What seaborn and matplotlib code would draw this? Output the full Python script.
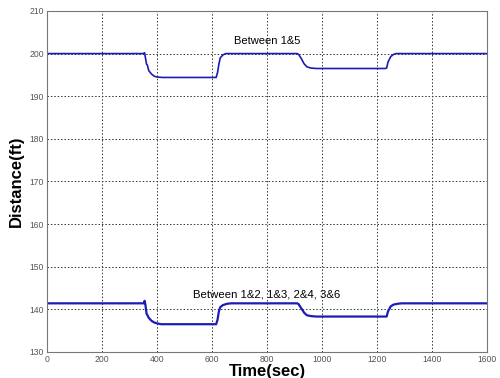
import matplotlib
matplotlib.use("Agg")
import matplotlib.pyplot as plt
import seaborn as sns
import pandas as pd

# Between 1&5
t_top = [0, 350, 355, 358, 362, 365, 370, 380, 390, 400, 420, 615, 620, 625, 630, 640, 650, 670,
         910, 915, 925, 935, 945, 960, 980, 1230, 1235, 1240, 1250, 1260, 1270, 1600]
d_top = [200, 200, 200.2, 199, 197.5, 197.3, 196, 195.2, 194.7, 194.5, 194.4, 194.4, 195.5, 197.5, 199, 199.7, 200, 200,
         200, 199.8, 198.8, 197.6, 196.9, 196.6, 196.5, 196.5, 196.6, 198, 199.3, 199.8, 200, 200]

# Between 1&2, 1&3, 2&4, 3&6
t_bot = [0, 352, 355, 358, 362, 370, 380, 390, 400, 415, 615, 620, 625, 630, 640, 655, 670,
         910, 915, 925, 935, 945, 960, 980, 1235, 1240, 1250, 1260, 1275, 1290, 1600]
d_bot = [141.4, 141.4, 142, 141, 139, 138, 137.3, 136.9, 136.7, 136.5, 136.5, 137.5, 139.5, 140.5, 141, 141.3, 141.4,
         141.4, 141.2, 140.2, 139.2, 138.6, 138.4, 138.3, 138.3, 139.5, 140.7, 141.1, 141.3, 141.4, 141.4]

x_ticks = [0, 200, 400, 600, 800, 1000, 1200, 1400, 1600]
y_ticks = [130, 140, 150, 160, 170, 180, 190, 200, 210]

sns.set_style("white")
plt.rcParams['font.family'] = ['Liberation Sans', 'DejaVu Sans']

fig = plt.figure(figsize=(5.0, 3.78), dpi=100)
ax = fig.add_axes([0.094, 0.069, 0.88, 0.902])

df_top = pd.DataFrame({"t": t_top, "d": d_top})
df_bot = pd.DataFrame({"t": t_bot, "d": d_bot})
sns.lineplot(data=df_top, x="t", y="d", ax=ax, color="#1c1cb4", lw=1.2)
sns.lineplot(data=df_bot, x="t", y="d", ax=ax, color="#1c1cb4", lw=1.6)

ax.set_xlim(0, 1600)
ax.set_ylim(130, 210)
ax.set_xticks(x_ticks)
ax.set_yticks(y_ticks)
ax.tick_params(axis="both", direction="in", labelsize=6.2, colors="#555555", length=3, pad=2)
ax.grid(True, linestyle=(0, (1.5, 2)), color="#333333", lw=0.7)
for s in ax.spines.values():
    s.set_color("#777777")
    s.set_linewidth(0.8)

ax.set_xlabel("Time(sec)", fontsize=12, fontweight="bold", labelpad=0, color="black")
ax.set_ylabel("Distance(ft)", fontsize=12, fontweight="bold", labelpad=4, color="black")

ax.text(800, 203, "Between 1&5", ha="center", va="center", fontsize=8, color="black")
ax.text(800, 143.4, "Between 1&2, 1&3, 2&4, 3&6", ha="center", va="center", fontsize=8.2, color="black")

fig.savefig("out.png", dpi=100)
